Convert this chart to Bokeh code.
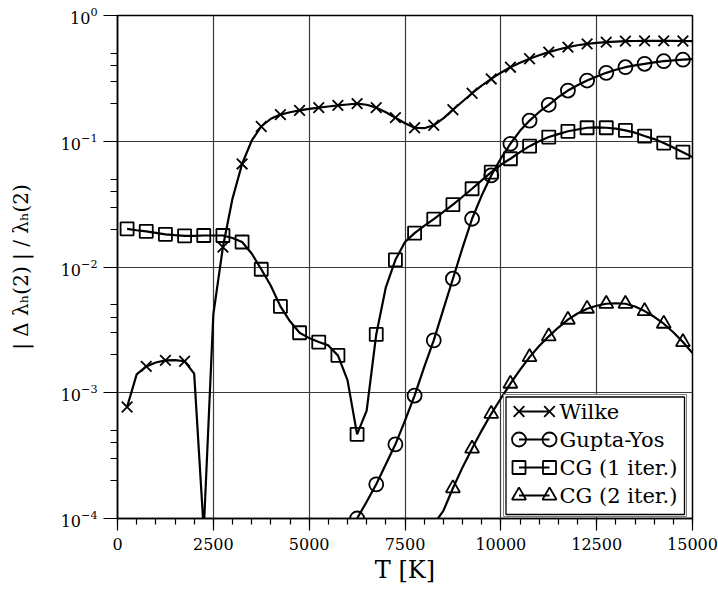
import math
from bokeh.plotting import figure
from bokeh.models import Range1d, FixedTicker, LogTickFormatter
from bokeh.core.properties import value
from bokeh.embed import file_html
from bokeh.resources import INLINE

# ---------------- data ----------------
T_all = [250 * k for k in range(1, 61)]  # 250 ... 15000

wilke = [7.7e-4, 1.40e-3, 1.62e-3, 1.74e-3, 1.81e-3, 1.82e-3, 1.78e-3, 1.42e-3, 8e-5, 4.2e-3,
         0.0144, 0.035, 0.066, 0.101, 0.131, 0.151, 0.163, 0.170, 0.176, 0.181,
         0.185, 0.189, 0.193, 0.196, 0.199, 0.195, 0.185, 0.170, 0.154, 0.139,
         0.128, 0.127, 0.134, 0.152, 0.178, 0.207, 0.241, 0.277, 0.313, 0.351,
         0.388, 0.421, 0.453, 0.483, 0.511, 0.537, 0.560, 0.580, 0.595, 0.606,
         0.614, 0.620, 0.625, 0.627, 0.628, 0.629, 0.629, 0.628, 0.627, 0.625]

T_gupta = [250 * k for k in range(25, 61)]  # 6250 ... 15000
gupta = [1.0e-4, 1.36e-4, 1.87e-4, 2.7e-4, 3.89e-4, 6.0e-4, 9.5e-4, 1.6e-3, 2.61e-3, 4.6e-3,
         8.07e-3, 0.0142, 0.0242, 0.037, 0.0535, 0.073, 0.0955, 0.121, 0.146, 0.171,
         0.195, 0.224, 0.253, 0.279, 0.304, 0.327, 0.350, 0.370, 0.388, 0.401,
         0.413, 0.424, 0.433, 0.440, 0.445, 0.450]

cg1 = [0.0201, 0.0196, 0.0192, 0.0187, 0.0182, 0.0179, 0.0177, 0.0177, 0.0178, 0.0178,
       0.0178, 0.0170, 0.0158, 0.0128, 0.0096, 0.0071, 4.86e-3, 3.7e-3, 3.0e-3, 2.72e-3,
       2.53e-3, 2.38e-3, 1.98e-3, 1.26e-3, 4.67e-4, 7.2e-4, 2.91e-3, 6.9e-3, 0.0114, 0.0158,
       0.0186, 0.0212, 0.024, 0.0274, 0.0313, 0.0362, 0.0419, 0.0488, 0.0568, 0.065,
       0.0726, 0.082, 0.0914, 0.100, 0.108, 0.114, 0.120, 0.124, 0.128, 0.129,
       0.128, 0.126, 0.122, 0.117, 0.110, 0.104, 0.0967, 0.089, 0.0819, 0.0748]

T_cg2 = [250 * k for k in range(33, 61)]  # 8250 ... 15000
cg2 = [9e-5, 1.15e-4, 1.74e-4, 2.55e-4, 3.6e-4, 5.0e-4, 6.8e-4, 9.0e-4, 1.18e-3, 1.52e-3,
       1.92e-3, 2.35e-3, 2.81e-3, 3.3e-3, 3.81e-3, 4.27e-3, 4.66e-3, 4.92e-3, 5.1e-3, 5.15e-3,
       5.1e-3, 4.85e-3, 4.46e-3, 4.02e-3, 3.54e-3, 3.03e-3, 2.53e-3, 2.07e-3]

labels = ["Wilke", "Gupta-Yos", "CG (1 iter.)", "CG (2 iter.)"]
x_ticks = [0, 2500, 5000, 7500, 10000, 12500, 15000]
y_ticks = [1e-4, 1e-3, 1e-2, 1e-1, 1e0]

# ---------------- layout / style constants ----------------
X_MIN, X_MAX = 0, 15000
Y_MIN, Y_MAX = 1e-4, 1.0
FONT = "DejaVu Serif"
W, H = 718, 593
BL, BR, BT, BB = 117, 26, 15, 75          # borders -> frame 117..692 x 15..518
FL, FR, FT, FB = BL, W - BR, BT, H - BB

markers = ["x", "circle", "square", "triangle"]
msizes = [15, 14, 13, 14]


def px_x(px):
    return X_MIN + (px - FL) / (FR - FL) * (X_MAX - X_MIN)


def px_y(py):
    lo, hi = math.log10(Y_MIN), math.log10(Y_MAX)
    return 10 ** (hi - (py - FT) / (FB - FT) * (hi - lo))


# ---------------- figure ----------------
p = figure(width=W, height=H, output_backend="svg", toolbar_location=None,
           y_axis_type="log", x_range=Range1d(X_MIN, X_MAX), y_range=Range1d(Y_MIN, Y_MAX),
           min_border_left=BL, min_border_right=BR, min_border_top=BT, min_border_bottom=BB)
p.background_fill_color = "white"
p.border_fill_color = "white"
p.outline_line_color = "black"
p.outline_line_width = 1.5

p.xaxis.ticker = FixedTicker(ticks=x_ticks, minor_ticks=list(range(0, 15001, 500)))
minor_y = [m * 10.0 ** e for e in range(-4, 0) for m in (2, 3, 4, 5)]
p.yaxis.ticker = FixedTicker(ticks=y_ticks, minor_ticks=minor_y)
p.yaxis.formatter = LogTickFormatter()

for ax in (p.xaxis, p.yaxis):
    ax.axis_line_color = "black"
    ax.axis_line_width = 1.5
    ax.major_tick_line_color = "black"
    ax.minor_tick_line_color = "black"
    ax.major_tick_line_width = 1.2
    ax.minor_tick_line_width = 1.2
    ax.major_tick_in = 0
    ax.minor_tick_in = 0
    ax.major_label_text_font = FONT
    ax.major_label_text_font_size = "16px"
    ax.major_label_text_color = "black"
    ax.axis_label_text_font = FONT
    ax.axis_label_text_font_style = "normal"
    ax.axis_label_text_color = "black"

p.xaxis.axis_label_text_font_size = "24px"
p.yaxis.axis_label_text_font_size = "20px"
p.xaxis.major_tick_out = 12
p.xaxis.minor_tick_out = 6
p.yaxis.major_tick_out = 14
p.yaxis.minor_tick_out = 7
p.xaxis.major_label_standoff = 7
p.yaxis.major_label_standoff = 6
p.xaxis.axis_label = "T [K]"
p.yaxis.axis_label = "| \u0394 \u03bb\u2095(2) | / \u03bb\u2095(2)"
p.xaxis.axis_label_standoff = 3
p.yaxis.axis_label_standoff = 25

p.xgrid.ticker = FixedTicker(ticks=x_ticks)
p.ygrid.ticker = FixedTicker(ticks=y_ticks)
p.xgrid.grid_line_color = "#3a3a3a"
p.ygrid.grid_line_color = "#3a3a3a"
p.xgrid.grid_line_width = 1.2
p.ygrid.grid_line_width = 1.2


def markers_of(ts, vs):
    keep = [(t, v) for t, v in zip(ts, vs) if (t // 250) % 2 == 1 and v >= Y_MIN]
    return [k[0] for k in keep], [k[1] for k in keep]


series = [(T_all, wilke), (T_gupta, gupta), (T_all, cg1), (T_cg2, cg2)]

for (ts, vs), mk, sz in zip(series, markers, msizes):
    p.line(ts, vs, line_color="black", line_width=2.2)
    mx, my = markers_of(ts, vs)
    p.scatter(mx, my, marker=mk, size=sz, line_color="black", line_width=1.8, fill_color=None)

# ---------------- legend (drawn in the frame, positioned in pixels) ----------------
LG_BOX = (504, 684, 395, 514)       # left, right, top, bottom (px)
LG_ROW0, LG_DY = 411, 28
LG_M1, LG_M2, LG_TX = 518.5, 549, 559

l, r, t, b = LG_BOX
p.quad(left=[px_x(l - 1)], right=[px_x(r + 2)], top=[px_y(t - 1)], bottom=[px_y(b + 2)],
       fill_color="white", line_color="#808080", line_width=1)
p.quad(left=[px_x(l + 1.5)], right=[px_x(r)], top=[px_y(t + 1.5)], bottom=[px_y(b)],
       fill_color="white", line_color="black", line_width=1.3)

for i, (lab, mk, sz) in enumerate(zip(labels, markers, msizes)):
    yy = px_y(LG_ROW0 + i * LG_DY)
    p.line([px_x(LG_M1), px_x(LG_M2)], [yy, yy], line_color="black", line_width=2.2)
    p.scatter([px_x(LG_M1), px_x(LG_M2)], [yy, yy], marker=mk, size=sz,
              line_color="black", line_width=1.8, fill_color=None)
    p.text([px_x(LG_TX)], [yy], text=[lab], text_font=value(FONT), text_font_size="21px",
           text_color="black", text_baseline="middle", text_align="left")

open("out.html", "w").write(file_html(p, INLINE))
